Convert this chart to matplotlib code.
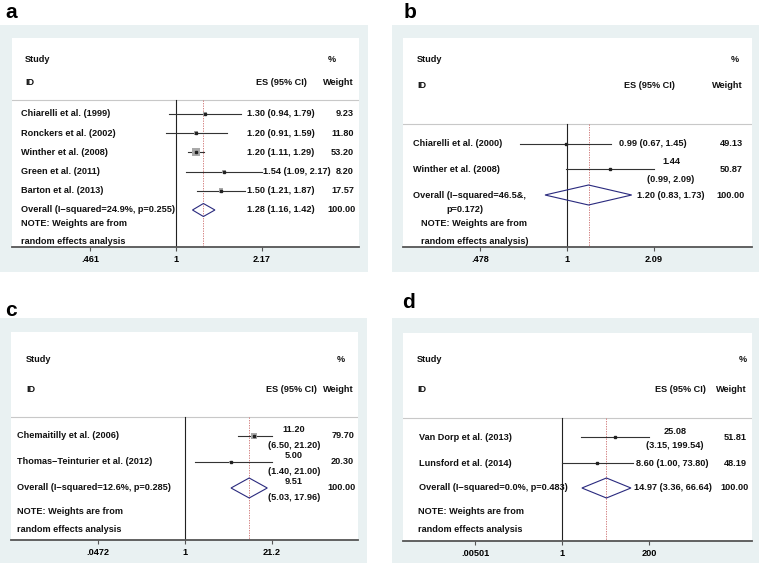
import numpy as np
import matplotlib
matplotlib.use('Agg')
import matplotlib.pyplot as plt
from matplotlib.patches import Rectangle, Polygon
from matplotlib.ticker import NullLocator

W, H = 761, 566
plt.rcParams['font.family'] = ['Liberation Sans', 'DejaVu Sans']

# ---------------------------------------------------------------- data
studies_a = ["Chiarelli et al. (1999)", "Ronckers et al. (2002)", "Winther et al. (2008)",
             "Green et al. (2011)", "Barton et al. (2013)"]
es_a = [1.30, 1.20, 1.20, 1.54, 1.50]
lo_a = [0.94, 0.91, 1.11, 1.09, 1.21]
hi_a = [1.79, 1.59, 1.29, 2.17, 1.87]
wt_a = [9.23, 11.80, 53.20, 8.20, 17.57]
overall_a = [1.28, 1.16, 1.42]
overall_lab_a = ["Overall (I\u2212squared=24.9%, p=0.255)"]
note_a = ["NOTE: Weights are from", "random effects analysis"]
ticks_a = [0.461, 1, 2.17]
ticklabels_a = [".461", "1", "2.17"]

studies_b = ["Chiarelli et al. (2000)", "Winther et al. (2008)"]
es_b = [0.99, 1.44]
lo_b = [0.67, 0.99]
hi_b = [1.45, 2.09]
wt_b = [49.13, 50.87]
overall_b = [1.20, 0.83, 1.73]
overall_lab_b = ["Overall (I\u2212squared=46.5&,", "p=0.172)"]
note_b = ["NOTE: Weights are from", "random effects analysis)"]
ticks_b = [0.478, 1, 2.09]
ticklabels_b = [".478", "1", "2.09"]

studies_c = ["Chemaitilly et al. (2006)", "Thomas\u2212Teinturier et al. (2012)"]
es_c = [11.20, 5.00]
lo_c = [6.50, 1.40]
hi_c = [21.20, 21.00]
wt_c = [79.70, 20.30]
overall_c = [9.51, 5.03, 17.96]
overall_lab_c = ["Overall (I\u2212squared=12.6%, p=0.285)"]
note_c = ["NOTE: Weights are from", "random effects analysis"]
ticks_c = [0.0472, 1, 21.2]
ticklabels_c = [".0472", "1", "21.2"]

studies_d = ["Van Dorp et al. (2013)", "Lunsford et al. (2014)"]
es_d = [25.08, 8.60]
lo_d = [3.15, 1.00]
hi_d = [199.54, 73.80]
wt_d = [51.81, 48.19]
overall_d = [14.97, 3.36, 66.64]
overall_lab_d = ["Overall (I\u2212squared=0.0%, p=0.483)"]
note_d = ["NOTE: Weights are from", "random effects analysis"]
ticks_d = [0.00501, 1, 200]
ticklabels_d = [".00501", "1", "200"]

# ---------------------------------------------------------------- layout (pixels)
layout_a = dict(letter="a", letter_xy=(11, 12), grey=(0, 25, 368, 272), white=(12, 38, 359, 247),
                one_px=176, tick_px=262, sep=100, row0=114, dy=19.2, ov_y=210, note_y=(224, 242),
                study_x=21, head_x=25, head_y=(60, 83), es_head=281, es_left=247, gap=1,
                w_right=354, pct_x=332, dia_h=13, box_k=1.1, wrap=[], wrap_x=0, wrap_off=(0, 0),
                note_x=21, ov2_x=0)
layout_b = dict(letter="b", letter_xy=(410, 12), grey=(392, 25, 759, 272), white=(403, 38, 752, 247),
                one_px=567, tick_px=654, sep=124, row0=144, dy=25, ov_y=195, note_y=(223, 242),
                study_x=413, head_x=417, head_y=(59, 86), es_head=649, es_left=619, gap=5,
                w_right=743, pct_x=735, dia_h=20, box_k=0.35, wrap=[1], wrap_x=671, wrap_off=(-8, 11),
                note_x=421, ov2_x=465)
layout_c = dict(letter="c", letter_xy=(11, 310), grey=(0, 318, 367, 563), white=(11, 332, 358, 540),
                one_px=185, tick_px=272, sep=417, row0=436, dy=26, ov_y=488, note_y=(511, 529),
                study_x=17, head_x=26, head_y=(359, 390), es_head=291, es_left=263, gap=3,
                w_right=354, pct_x=341, dia_h=20, box_k=0.6, wrap=[0, 1, 2], wrap_x=294,
                wrap_off=(-7, 10), note_x=17, ov2_x=0)
layout_d = dict(letter="d", letter_xy=(409, 303), grey=(392, 318, 759, 563), white=(403, 333, 752, 541),
                one_px=562, tick_px=649, sep=418, row0=437, dy=26, ov_y=488, note_y=(512, 530),
                study_x=419, head_x=417, head_y=(359, 390), es_head=680, es_left=634, gap=3,
                w_right=747, pct_x=743, dia_h=20, box_k=0.35, wrap=[0], wrap_x=675, wrap_off=(-6, 8),
                note_x=418, ov2_x=0)

GREY_BG = '#E9F1F2'
FS = 6.6

fig = plt.figure(figsize=(W / 100, H / 100), dpi=100)
fig.patch.set_facecolor('white')


def fx(px):
    return px / W


def fy(py):
    return 1 - py / H


def txt(x, y, s, ha='left', **kw):
    fig.text(fx(x), fy(y), s, ha=ha, va='center', fontsize=FS, fontweight='bold', color='#111111', **kw)


def draw_panel(studies, es, lo, hi, wt, overall, overall_lab, note, ticks, ticklabels, L):
    gx0, gy0, gx1, gy1 = L['grey']
    fig.add_artist(Rectangle((fx(gx0), fy(gy1)), (gx1 - gx0) / W, (gy1 - gy0) / H,
                             transform=fig.transFigure, facecolor=GREY_BG, edgecolor='none', zorder=0))
    wx0, wy0, wx1, wy1 = L['white']
    ax = fig.add_axes([fx(wx0), fy(wy1), (wx1 - wx0) / W, (wy1 - wy0) / H])
    ax.set_facecolor('white')
    one = L['one_px']
    ppd = (L['tick_px'] - one) / np.log10(ticks[-1])
    ax.set_xscale('log')
    ax.set_xlim(10 ** ((wx0 - one) / ppd), 10 ** ((wx1 - one) / ppd))
    ax.set_ylim(wy1, wy0)
    for s in ['top', 'left', 'right']:
        ax.spines[s].set_visible(False)
    ax.spines['bottom'].set_color('#555555')
    ax.spines['bottom'].set_linewidth(1.3)
    ax.set_yticks([])
    ax.set_xticks(ticks, ticklabels)
    ax.xaxis.set_minor_locator(NullLocator())
    ax.tick_params(axis='x', length=3, width=0.8, color='#555555', pad=2.5, labelsize=FS)
    for t in ax.get_xticklabels():
        t.set_fontweight('bold')

    def to_px(v):
        return one + np.log10(v) * ppd

    sep = L['sep']
    ax.axhline(sep, color='#C8C8C8', lw=0.8)
    ax.plot([1, 1], [sep, wy1], color='#222222', lw=0.8)
    ax.plot([overall[0]] * 2, [sep, wy1], color='#CC6E6E', lw=0.6, ls=(0, (1.6, 1.4)))

    # header
    hy1, hy2 = L['head_y']
    txt(L['head_x'], hy1, "Study")
    txt(L['head_x'], hy2, "ID")
    txt(L['pct_x'], hy1, "%", ha='center')
    txt(L['es_head'], hy2, "ES (95% CI)", ha='center')
    txt(L['w_right'], hy2, "Weight", ha='right')

    rows_y = [L['row0'] + i * L['dy'] for i in range(len(studies))]
    for i, (name, e, l, h, w) in enumerate(zip(studies, es, lo, hi, wt)):
        y = rows_y[i]
        ax.plot([l, h], [y, y], color='#333333', lw=0.8, zorder=2)
        side = L['box_k'] * np.sqrt(w) * 0.72
        ax.scatter([e], [y], marker='s', s=side ** 2, color='#A9A9A9', edgecolors='none', zorder=3)
        ax.plot([e], [y], marker='s', ms=1.5, color='#222222', zorder=4)
        txt(L['study_x'], y, name)
        txt(L['w_right'], y, f"{w:.2f}", ha='right')

    ov, olo, ohi = overall
    oy = L['ov_y']
    hh = L['dia_h'] / 2
    ax.add_patch(Polygon([(olo, oy), (ov, oy - hh), (ohi, oy), (ov, oy + hh)], closed=True,
                         fill=False, edgecolor='#2A2A7E', lw=0.8, zorder=3))
    txt(L['study_x'], oy, overall_lab[0])
    if len(overall_lab) > 1:
        txt(L['ov2_x'], oy + 14, overall_lab[1], ha='center')
    txt(L['w_right'] + 2, oy, "100.00", ha='right')

    all_rows = list(zip(es, lo, hi, rows_y)) + [(ov, olo, ohi, oy)]
    for i, (e, l, h, y) in enumerate(all_rows):
        if i in L['wrap']:
            up, dn = L['wrap_off']
            txt(L['wrap_x'], y + up, f"{e:.2f}", ha='center')
            txt(L['wrap_x'], y + dn, f"({l:.2f}, {h:.2f})", ha='center')
        else:
            x = max(L['es_left'], to_px(h) + L['gap'])
            txt(x, y, f"{e:.2f} ({l:.2f}, {h:.2f})")

    ny1, ny2 = L['note_y']
    txt(L['note_x'], ny1, note[0])
    txt(L['note_x'], ny2, note[1])

    lx, ly = L['letter_xy']
    fig.text(fx(lx), fy(ly), L['letter'], ha='center', va='center', fontsize=15, fontweight='bold')


draw_panel(studies_a, es_a, lo_a, hi_a, wt_a, overall_a, overall_lab_a, note_a, ticks_a, ticklabels_a, layout_a)
draw_panel(studies_b, es_b, lo_b, hi_b, wt_b, overall_b, overall_lab_b, note_b, ticks_b, ticklabels_b, layout_b)
draw_panel(studies_c, es_c, lo_c, hi_c, wt_c, overall_c, overall_lab_c, note_c, ticks_c, ticklabels_c, layout_c)
draw_panel(studies_d, es_d, lo_d, hi_d, wt_d, overall_d, overall_lab_d, note_d, ticks_d, ticklabels_d, layout_d)

fig.savefig('out.png', dpi=100)
